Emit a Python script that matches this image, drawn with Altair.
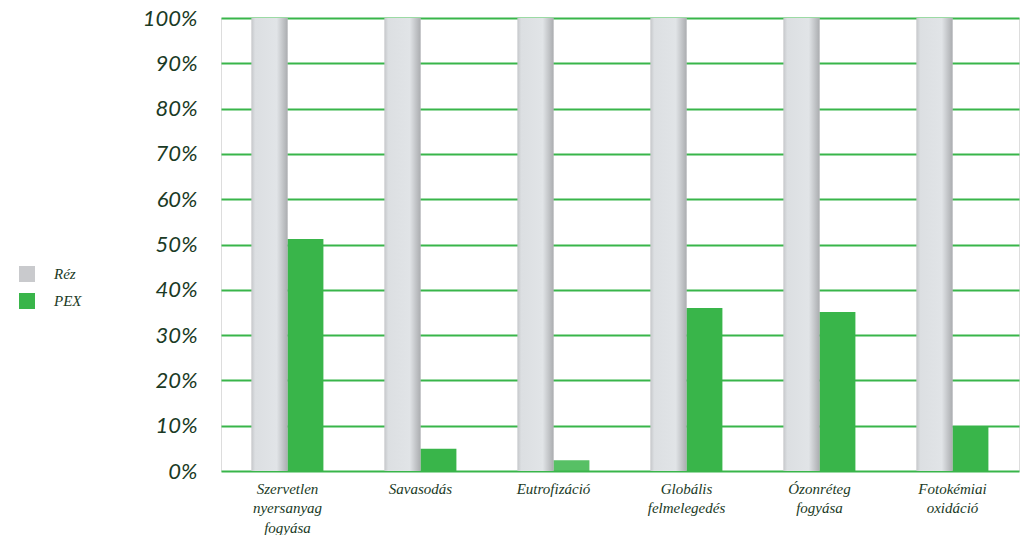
import altair as alt
import pandas as pd

categories = ["Szervetlen\nnyersanyag\nfogyása", "Savasodás", "Eutrofizáció",
              "Globális\nfelmelegedés", "Ózonréteg\nfogyása", "Fotokémiai\noxidáció"]
series = ["Réz", "PEX"]
rez_values = [1.0, 1.0, 1.0, 1.0, 1.0, 1.0]
pex_values = [0.512, 0.049, 0.024, 0.36, 0.351, 0.099]
y_ticks = [0, 0.1, 0.2, 0.3, 0.4, 0.5, 0.6, 0.7, 0.8, 0.9, 1.0]

rows = []
for c, r, p in zip(categories, rez_values, pex_values):
    rows.append({"cat": c, "series": "Réz", "value": r})
    rows.append({"cat": c, "series": "PEX", "value": p})
df = pd.DataFrame(rows)

TXT = "#1a3a25"
GREEN = "#39b54a"
SERIF = "Liberation Serif"

x_enc = alt.X("cat:N", sort=categories, title=None,
              scale=alt.Scale(paddingInner=0.46, paddingOuter=0.23),
              axis=alt.Axis(labelAngle=0, domain=False, ticks=False, labelPadding=10,
                            labelFont=SERIF, labelFontStyle="italic",
                            labelFontSize=15, labelColor=TXT, labelLineHeight=19.5,
                            labelBaseline="top",
                            labelExpr="split(datum.label, '\\n')"))
xo_enc = alt.XOffset("series:N", sort=series, scale=alt.Scale(domain=series))
y_enc = alt.Y("value:Q", title=None,
              scale=alt.Scale(domain=[0, 1], nice=False),
              axis=alt.Axis(values=y_ticks, format=".0%", domain=False, ticks=False,
                            labelPadding=24, labelFont="Lato", labelFontStyle="italic",
                            labelFontSize=22, labelColor=TXT,
                            gridColor=GREEN, gridWidth=2.2, gridOpacity=1))

base = alt.Chart(df)

bars = base.mark_bar().encode(
    x=x_enc, xOffset=xo_enc, y=y_enc,
    color=alt.Color("series:N", sort=series,
                    scale=alt.Scale(domain=series, range=["#c9cacd", GREEN]),
                    legend=alt.Legend(title=None, orient="none", legendX=-202, legendY=248,
                                      symbolType="square", symbolSize=256,
                                      symbolStrokeWidth=0, rowPadding=11,
                                      labelOffset=19, labelFont=SERIF,
                                      labelFontStyle="italic", labelFontSize=15,
                                      labelColor=TXT)),
    opacity=alt.condition(alt.datum.cat == "Eutrofizáció", alt.value(0.85), alt.value(1.0)),
)

grad = alt.Gradient(
    gradient="linear", x1=0, x2=1, y1=0, y2=0,
    stops=[alt.GradientStop(offset=0, color="#c6c8cb"),
           alt.GradientStop(offset=0.1, color="#dcdfe2"),
           alt.GradientStop(offset=0.7, color="#e1e4e7"),
           alt.GradientStop(offset=1, color="#abadb0")])

rez = base.transform_filter(alt.datum.series == "Réz").mark_bar(fill=grad).encode(
    x=x_enc, xOffset=xo_enc, y=y_enc)

chart = alt.layer(bars, rez).properties(
    width=798, height=453,
    autosize=alt.AutoSizeParams(type="none"),
    padding={"left": 221, "top": 18, "right": 12, "bottom": 64},
).configure_view(stroke=None).configure(background="white")

chart.save("out.html", embed_options={"renderer": "svg", "actions": False})
